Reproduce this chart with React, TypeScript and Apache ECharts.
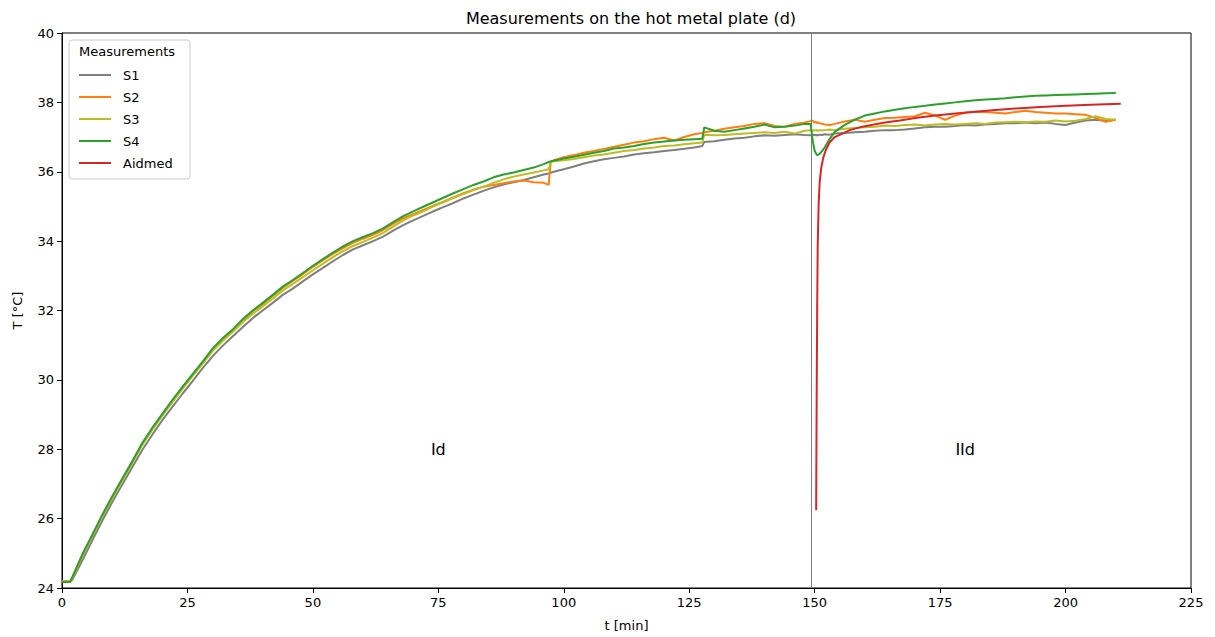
import React, { useEffect, useRef } from "react";
import * as echarts from "echarts";

// time axis [min] shared by the four sensor series
const time = [
  0, 1, 1.6,
  2, 4, 6, 8, 10, 12, 14, 16, 18, 20, 22, 24, 26, 28, 30, 32, 34, 36, 38, 40, 42, 44, 46, 48, 50,
  52, 54, 56, 58, 60, 62, 64, 66, 68, 70, 72, 74, 76, 78, 80, 82, 84, 86, 88, 90, 92, 94, 96,
  97, 97.4,
  98, 100, 102, 104, 106, 108, 110, 112, 114, 116, 118, 120, 122, 124, 126,
  127.6,
  128, 130, 132, 134, 136, 138, 140, 142, 144, 146, 148,
  149.2, 149.6, 150, 150.3, 150.5, 150.7, 151, 151.5,
  152, 153, 154,
  156, 158, 160, 162, 164, 166, 168, 170, 172, 174, 176, 178, 180, 182, 184, 186, 188, 190,
  192, 194, 196, 198, 200, 202, 204, 206, 208, 210,
];

const s1 = [
  24.2, 24.2, 24.2,
  24.22, 24.78, 25.36, 25.93, 26.47, 26.98, 27.48, 27.98, 28.42, 28.84,
  29.22, 29.6, 29.96, 30.33, 30.68, 30.98, 31.25, 31.52, 31.78, 32.0,
  32.22, 32.45, 32.63, 32.84, 33.04, 33.23, 33.42, 33.6, 33.76, 33.88,
  34.0, 34.13, 34.3, 34.46, 34.6, 34.73, 34.86, 34.98, 35.1, 35.23,
  35.34, 35.45, 35.55, 35.63, 35.7, 35.76, 35.84, 35.92,
  35.95, 35.97,
  36.0, 36.07, 36.15, 36.24, 36.3, 36.36, 36.4, 36.44, 36.5, 36.53, 36.56, 36.6, 36.63, 36.66, 36.7,
  36.74,
  36.86, 36.88, 36.92, 36.96, 36.98, 37.02, 37.05, 37.04, 37.06, 37.08, 37.06,
  37.05, 37.06, 37.06, 37.05, 37.06, 37.05, 37.07, 37.06,
  37.08, 37.07, 37.1,
  37.12, 37.14, 37.15, 37.18, 37.2, 37.2, 37.22, 37.25, 37.28, 37.3, 37.3, 37.32, 37.35, 37.33,
  37.36, 37.38, 37.4, 37.4, 37.42, 37.4, 37.42, 37.38, 37.35, 37.42, 37.48, 37.5, 37.47, 37.5,
];

const s2 = [
  24.17, 24.17, 24.17,
  24.28, 24.93, 25.5, 26.08, 26.62, 27.13, 27.64, 28.16, 28.6, 29.0,
  29.4, 29.77, 30.13, 30.5, 30.87, 31.16, 31.42, 31.72, 31.97, 32.18,
  32.42, 32.66, 32.85, 33.05, 33.26, 33.45, 33.63, 33.8, 33.95, 34.07,
  34.18, 34.32, 34.5, 34.66, 34.78, 34.9, 35.02, 35.14, 35.26, 35.38,
  35.48, 35.57, 35.62, 35.67, 35.72, 35.75, 35.7, 35.68,
  35.62, 36.28,
  36.33, 36.42, 36.48, 36.55, 36.6, 36.66, 36.72, 36.78, 36.84, 36.88, 36.94, 36.98, 36.9, 37.0, 37.08,
  37.12,
  37.14, 37.18, 37.24, 37.28, 37.32, 37.38, 37.4, 37.32, 37.3, 37.38, 37.42,
  37.46, 37.47, 37.42, 37.44, 37.4, 37.42, 37.4, 37.38,
  37.36, 37.35, 37.38,
  37.45, 37.5, 37.44, 37.5, 37.55, 37.56, 37.58, 37.6, 37.7, 37.62, 37.5, 37.62, 37.7, 37.73,
  37.72, 37.7, 37.68, 37.72, 37.76, 37.72, 37.7, 37.68, 37.68, 37.66, 37.64, 37.55, 37.44, 37.5,
];

const s3 = [
  24.2, 24.2, 24.2,
  24.27, 24.92, 25.48, 26.05, 26.59, 27.1, 27.6, 28.12, 28.56, 28.97,
  29.36, 29.74, 30.1, 30.46, 30.83, 31.12, 31.38, 31.66, 31.9, 32.12,
  32.34, 32.58, 32.77, 32.96, 33.16, 33.35, 33.54, 33.71, 33.86, 33.98,
  34.1, 34.24, 34.42, 34.6, 34.74, 34.86, 35.0, 35.12, 35.24, 35.36,
  35.47, 35.57, 35.68, 35.78, 35.86, 35.92, 35.98, 36.04,
  36.07, 36.28,
  36.3, 36.33, 36.37, 36.42, 36.47, 36.5, 36.55, 36.6, 36.63, 36.67, 36.7, 36.74, 36.76, 36.79, 36.82,
  36.84,
  37.07, 37.05, 37.06, 37.08, 37.1, 37.12, 37.14, 37.12, 37.15, 37.1, 37.18,
  37.2, 37.18, 37.2, 37.19, 37.2, 37.18, 37.2, 37.19,
  37.2, 37.22, 37.2,
  37.24, 37.26, 37.28, 37.3, 37.33, 37.32, 37.35, 37.36, 37.33, 37.36, 37.38, 37.36, 37.38, 37.4,
  37.38, 37.42, 37.43, 37.44, 37.43, 37.45, 37.44, 37.48, 37.45, 37.47, 37.52, 37.6, 37.52, 37.5,
];

const s4 = [
  24.17, 24.17, 24.18,
  24.3, 24.95, 25.52, 26.1, 26.64, 27.15, 27.65, 28.18, 28.62, 29.02,
  29.42, 29.8, 30.16, 30.52, 30.9, 31.2, 31.45, 31.75, 32.0, 32.22,
  32.45, 32.69, 32.88, 33.08, 33.29, 33.48, 33.67, 33.85, 34.0, 34.12,
  34.23, 34.37, 34.55, 34.72, 34.86, 34.99, 35.12, 35.25, 35.38, 35.5,
  35.62, 35.72, 35.84, 35.92, 35.98, 36.05, 36.12, 36.22,
  36.28, 36.3,
  36.32, 36.38, 36.43, 36.49, 36.55, 36.6, 36.67, 36.7, 36.74, 36.8, 36.84, 36.87, 36.9, 36.92, 36.94,
  36.95,
  37.28, 37.18, 37.15, 37.2, 37.25, 37.3, 37.36, 37.28, 37.3, 37.33, 37.38,
  37.38, 36.9, 36.6, 36.52, 36.48, 36.49, 36.52, 36.6,
  36.7, 36.95, 37.15,
  37.35, 37.5, 37.62, 37.68, 37.74, 37.79, 37.83, 37.87, 37.9, 37.94, 37.97, 38.0, 38.03, 38.06,
  38.08, 38.1, 38.12, 38.15, 38.17, 38.19, 38.2, 38.21, 38.22, 38.23, 38.24, 38.25, 38.26, 38.27,
];

// Aidmed (starts after the phase boundary)
const aidmedTime = [
  150.3, 150.4, 150.5, 150.6, 150.8, 151, 151.3, 151.7, 152.2, 153, 154, 155.5, 157, 159, 161,
  164, 167, 170, 174, 178, 182, 186, 190, 195, 200, 205, 211,
];
const aidmedTemp = [
  26.24, 29.5, 32.0, 33.8, 35.1, 35.7, 36.1, 36.4, 36.62, 36.85, 37.0, 37.1, 37.2, 37.28, 37.34,
  37.42, 37.48, 37.55, 37.62, 37.68, 37.73, 37.78, 37.82, 37.87, 37.9, 37.93, 37.96,
];

const seriesNames = ["S1", "S2", "S3", "S4", "Aidmed"];
const seriesColors = ["#7f7f7f", "#ff7f0e", "#bcbd22", "#2ca02c", "#d62728"];
const xTicks = { min: 0, max: 225, interval: 25 };
const yTicks = { min: 24, max: 40, interval: 2 };
const phaseBoundary = 149.35;
const phaseLabels = [
  { name: "Id", t: 75, T: 28 },
  { name: "IId", t: 180, T: 28 },
];

const FONT = "DejaVu Sans, sans-serif";

export default function App() {
  const ref = useRef<HTMLDivElement>(null);

  useEffect(() => {
    if (!ref.current) return;
    const chart = echarts.init(ref.current, undefined, { renderer: "svg" });
    const sensorValues = [s1, s2, s3, s4];
    const series: any[] = sensorValues.map((vals, k) => ({
      name: seriesNames[k],
      type: "line",
      symbol: "none",
      showSymbol: false,
      data: time.map((t, i) => [t, vals[i]]),
      lineStyle: { width: 2, color: seriesColors[k] },
      itemStyle: { color: seriesColors[k] },
      z: 2 + k,
    }));
    series.push({
      name: seriesNames[4],
      type: "line",
      symbol: "none",
      showSymbol: false,
      data: aidmedTime.map((t, i) => [t, aidmedTemp[i]]),
      lineStyle: { width: 2, color: seriesColors[4] },
      itemStyle: { color: seriesColors[4] },
      z: 7,
    });
    series[0].markLine = {
      silent: true,
      symbol: "none",
      label: { show: false },
      lineStyle: { color: "#808080", width: 1, type: "solid" },
      data: [{ xAxis: phaseBoundary }],
    };
    series[0].markPoint = {
      silent: true,
      symbol: "circle",
      symbolSize: 0,
      label: {
        show: true,
        position: "inside",
        formatter: (p: any) => p.name,
        fontFamily: FONT,
        fontSize: 16,
        color: "#000",
      },
      data: phaseLabels.map((l) => ({ name: l.name, coord: [l.t, l.T] })),
    };

    chart.setOption({
      animation: false,
      textStyle: { fontFamily: FONT },
      title: {
        text: "Measurements on the hot metal plate (d)",
        left: 626,
        top: 5,
        textAlign: "center",
        textStyle: { fontFamily: FONT, fontSize: 16, fontWeight: "normal", color: "#000" },
      },
      grid: {
        left: 62,
        right: 24,
        top: 33,
        bottom: 48,
        show: true,
        borderColor: "#000",
        borderWidth: 1,
      },
      legend: {
        data: seriesNames,
        orient: "vertical",
        left: 79,
        top: 68,
        padding: 0,
        icon: "rect",
        itemWidth: 32,
        itemHeight: 2,
        itemGap: 8,
        textStyle: {
          fontFamily: FONT,
          fontSize: 13,
          lineHeight: 14,
          color: "#000",
          padding: [0, 0, 0, 7],
        },
        z: 10,
      },
      graphic: [
        {
          type: "rect",
          z: 5,
          shape: { x: 69, y: 40, width: 121, height: 139, r: 3 },
          style: { fill: "rgba(255,255,255,0.85)", stroke: "#cccccc", lineWidth: 1 },
        },
        {
          type: "text",
          z: 6,
          x: 127,
          y: 51,
          style: {
            text: "Measurements",
            fontFamily: FONT,
            fontSize: 13,
            fill: "#000",
            align: "center",
            verticalAlign: "middle",
          },
        },
      ],
      xAxis: {
        type: "value",
        min: xTicks.min,
        max: xTicks.max,
        interval: xTicks.interval,
        name: "t [min]",
        nameLocation: "middle",
        nameGap: 31,
        nameTextStyle: { fontFamily: FONT, fontSize: 13, color: "#000" },
        axisLine: { show: true, lineStyle: { color: "#000" } },
        axisTick: { show: true, length: 5, lineStyle: { color: "#000" } },
        axisLabel: { fontFamily: FONT, fontSize: 13, color: "#000", margin: 8 },
        splitLine: { show: false },
      },
      yAxis: {
        type: "value",
        min: yTicks.min,
        max: yTicks.max,
        interval: yTicks.interval,
        name: "T [°C]",
        nameLocation: "middle",
        nameGap: 38,
        nameTextStyle: { fontFamily: FONT, fontSize: 13, color: "#000" },
        axisLine: { show: true, lineStyle: { color: "#000" } },
        axisTick: { show: true, length: 5, lineStyle: { color: "#000" } },
        axisLabel: { fontFamily: FONT, fontSize: 13, color: "#000", margin: 8 },
        splitLine: { show: false },
      },
      series,
    });
    return () => chart.dispose();
  }, []);

  return (
    <div
      ref={ref}
      style={{ position: "fixed", left: 0, top: 0, width: 1215, height: 637, background: "#fff" }}
    />
  );
}
